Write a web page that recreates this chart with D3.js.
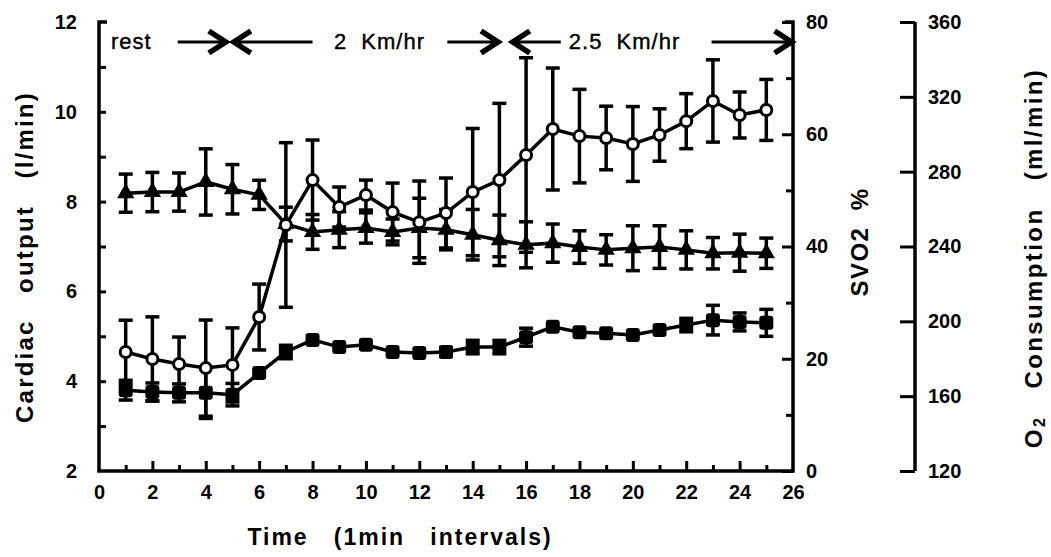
<!DOCTYPE html>
<html>
<head>
<meta charset="utf-8">
<script src="https://cdn.jsdelivr.net/npm/d3@7"></script>
<style>
  body { margin: 0; background: #fff; }
  text { font-family: "Liberation Sans", Arial, Helvetica, sans-serif; fill: #000; white-space: pre; }
</style>
</head>
<body>
<svg id="chart"></svg>
<script>
var width = 1051;
var height = 557;

// time points, 1 min intervals
var minutes = d3.range(1, 26);

// cardiac output (l/min), filled markers
var cardiacOutput = [3.80, 3.76, 3.74, 3.74, 3.70, 4.18, 4.65, 4.92, 4.76, 4.81, 4.65, 4.63, 4.65,
  4.76, 4.76, 4.98, 5.21, 5.09, 5.07, 5.03, 5.14, 5.25, 5.36, 5.32, 5.30];
var cardiacOutputErr = [0.22, 0.2, 0.2, 0.57, 0.25, 0, 0.15, 0, 0, 0, 0, 0, 0.1,
  0.15, 0.15, 0.2, 0, 0, 0, 0, 0, 0.15, 0.33, 0.2, 0.3];

// SVO2 %, triangles
var svo2 = [49.5, 49.7, 49.7, 51.5, 50.2, 49.2, 44.0, 42.6, 43.0, 43.3, 42.6, 43.3, 43.0,
  42.1, 41.1, 40.3, 40.6, 39.9, 39.4, 39.7, 39.9, 39.4, 38.8, 38.9, 38.8];
var svo2Err = [3.4, 3.5, 3.4, 5.9, 4.4, 2.6, 3.0, 3.1, 3.2, 2.7, 2.3, 5.3, 3.6,
  4.5, 4.5, 4.1, 3.4, 2.9, 2.7, 4.0, 3.8, 3.4, 2.8, 3.3, 2.7];

// O2 consumption (ml/min), open circles
var o2 = [183.6, 179.9, 177.2, 175.0, 176.7, 202.3, 251.5, 275.5, 261.1, 267.5, 258.4, 253.0, 257.9,
  269.1, 275.5, 288.9, 302.8, 299.0, 298.0, 294.8, 299.6, 307.0, 317.8, 310.3, 313.0];
var o2Err = [17, 22.5, 14.4, 25.7, 19.8, 17.6, 44, 21.4, 10.7, 8, 15.5, 22, 18.7,
  34, 41, 52, 32.6, 25, 17, 20, 14, 14.7, 22, 12.3, 16.3];

// tick values
var xTicks = d3.range(0, 27, 2);
var coTicks = [2, 4, 6, 8, 10, 12];
var svTicks = [0, 20, 40, 60, 80];
var o2Ticks = [120, 160, 200, 240, 280, 320, 360];

// walking phases shown along the top (minutes)
var phaseLabels = ["rest", "2  Km/hr", "2.5  Km/hr"];
var phaseLabelX = [0.45, 8.8, 17.6];
var arrowsRight = [[2.95, 4.75], [13.05, 14.95], [22.95, 25.95]];
var arrowsLeft = [[5.05, 8.0], [15.5, 17.3]];

var plotLeft = 99, plotRight = 793, plotTop = 22, plotBottom = 471;
var o2AxisX = 915;

var svg = d3.select("#chart").attr("width", width).attr("height", height);

var x = d3.scaleLinear().domain([0, 26]).range([plotLeft, plotRight]);
var yCO = d3.scaleLinear().domain([2, 12]).range([plotBottom, plotTop]);
var ySV = d3.scaleLinear().domain([0, 80]).range([plotBottom, plotTop]);
var yO2 = d3.scaleLinear().domain([120, 360]).range([plotBottom, plotTop]);

function styleAxis(g) {
  g.select(".domain").remove();
  g.selectAll("line").attr("stroke", "#000").attr("stroke-width", 3);
  g.selectAll("text").attr("font-size", 20).attr("font-weight", "bold").attr("fill", "#000");
}

// x axis
svg.append("g")
    .attr("transform", "translate(0," + plotBottom + ")")
    .call(d3.axisBottom(x).tickValues(d3.range(1, 26, 2)).tickSizeInner(-6).tickSizeOuter(0).tickFormat(""))
    .call(styleAxis);
svg.append("g")
    .attr("transform", "translate(0," + plotBottom + ")")
    .call(d3.axisBottom(x).tickValues(xTicks.slice(1, -1)).tickSizeInner(-10).tickSizeOuter(0).tickPadding(14))
    .call(styleAxis);
svg.append("g")
    .attr("transform", "translate(0," + plotBottom + ")")
    .call(d3.axisBottom(x).tickValues([0, 26]).tickSize(0).tickPadding(14))
    .call(styleAxis);

// left axis, cardiac output
svg.append("g")
    .attr("transform", "translate(" + plotLeft + ",0)")
    .call(d3.axisLeft(yCO).tickValues(d3.range(3, 12, 1)).tickSizeInner(-7).tickSizeOuter(0).tickFormat(""))
    .call(styleAxis);
svg.append("g")
    .attr("transform", "translate(" + plotLeft + ",0)")
    .call(d3.axisLeft(yCO).tickValues(coTicks).tickSizeInner(0).tickSizeOuter(0).tickPadding(22))
    .call(styleAxis);

// right axis, SVO2
svg.append("g")
    .attr("transform", "translate(" + plotRight + ",0)")
    .call(d3.axisRight(ySV).tickValues(d3.range(10, 80, 20)).tickSizeInner(-7).tickSizeOuter(0).tickFormat(""))
    .call(styleAxis);
svg.append("g")
    .attr("transform", "translate(" + plotRight + ",0)")
    .call(d3.axisRight(ySV).tickValues(svTicks).tickSizeInner(-11).tickSizeOuter(0).tickPadding(13))
    .call(styleAxis);

// third axis, O2 consumption
svg.append("g")
    .attr("transform", "translate(" + o2AxisX + ",0)")
    .call(d3.axisRight(yO2).tickValues(o2Ticks).tickSizeInner(-15).tickSizeOuter(0).tickPadding(13))
    .call(styleAxis);

// axis lines
svg.append("path")
    .attr("d", "M" + (plotLeft + 8) + "," + plotTop + "H" + plotLeft + "V" + plotBottom + "H" + plotRight +
      "V" + plotTop + "H" + (plotRight - 8))
    .attr("fill", "none").attr("stroke", "#000").attr("stroke-width", 3.5);
svg.append("line")
    .attr("x1", o2AxisX).attr("x2", o2AxisX).attr("y1", yO2(360)).attr("y2", yO2(120))
    .attr("stroke", "#000").attr("stroke-width", 3.5);

// axis titles
svg.append("text")
    .attr("transform", "translate(33," + 257 + ") rotate(-90)")
    .attr("text-anchor", "middle").attr("font-size", 24).attr("font-weight", "bold")
    .attr("letter-spacing", 2.2)
    .text("Cardiac   output   (l/min)");

svg.append("text")
    .attr("x", 400).attr("y", 545)
    .attr("text-anchor", "middle").attr("font-size", 23).attr("font-weight", "bold")
    .attr("letter-spacing", 2)
    .text("Time   (1min   intervals)");

svg.append("text")
    .attr("transform", "translate(868,242) rotate(-90)")
    .attr("text-anchor", "middle").attr("font-size", 24).attr("font-weight", "bold")
    .attr("letter-spacing", 1.5)
    .text("SVO2  %");

var o2Title = svg.append("text")
    .attr("transform", "translate(1042,258) rotate(-90)")
    .attr("text-anchor", "middle").attr("font-size", 24).attr("font-weight", "bold")
    .attr("letter-spacing", 2.4);
o2Title.append("tspan").text("O");
o2Title.append("tspan").attr("font-size", 16).attr("dy", 3).text("2");
o2Title.append("tspan").attr("dy", -3).text("   Consumption   (ml/min)");

// phase annotations
svg.selectAll(".phase")
  .data(phaseLabels)
  .enter()
  .append("text")
    .attr("class", "phase")
    .attr("x", function(d, i) { return x(phaseLabelX[i]); })
    .attr("y", 49)
    .attr("font-size", 22)
    .attr("letter-spacing", 1)
    .attr("stroke", "#000")
    .attr("stroke-width", 0.4)
    .text(function(d) { return d; });

var arrowY = 42;
function arrowHead(tipX, dir) {
  return "M" + (tipX - dir * 17) + "," + (arrowY - 11) + "L" + tipX + "," + arrowY +
    "L" + (tipX - dir * 17) + "," + (arrowY + 11);
}
arrowsRight.forEach(function(a) {
  svg.append("line").attr("x1", x(a[0])).attr("x2", x(a[1]) - 3).attr("y1", arrowY).attr("y2", arrowY)
    .attr("stroke", "#000").attr("stroke-width", 3);
  svg.append("path").attr("d", arrowHead(x(a[1]), 1))
    .attr("fill", "none").attr("stroke", "#000").attr("stroke-width", 5.5).attr("stroke-linejoin", "miter");
});
arrowsLeft.forEach(function(a) {
  svg.append("line").attr("x1", x(a[0]) + 3).attr("x2", x(a[1])).attr("y1", arrowY).attr("y2", arrowY)
    .attr("stroke", "#000").attr("stroke-width", 3);
  svg.append("path").attr("d", arrowHead(x(a[0]), -1))
    .attr("fill", "none").attr("stroke", "#000").attr("stroke-width", 5.5).attr("stroke-linejoin", "miter");
});

// series
var series = [
  {values: svo2, err: svo2Err, y: ySV, marker: "triangle"},
  {values: cardiacOutput, err: cardiacOutputErr, y: yCO, marker: "square"},
  {values: o2, err: o2Err, y: yO2, marker: "open"}
];

function drawErrors(s) {
  var g = svg.append("g").attr("stroke", "#000").attr("stroke-width", 3.5);
  s.values.forEach(function(v, i) {
    if (!s.err[i]) return;
    var cx = x(minutes[i]);
    var y1 = s.y(v - s.err[i]), y2 = s.y(v + s.err[i]);
    g.append("line").attr("x1", cx).attr("x2", cx).attr("y1", y1).attr("y2", y2);
    g.append("line").attr("x1", cx - 7).attr("x2", cx + 7).attr("y1", y1).attr("y2", y1);
    g.append("line").attr("x1", cx - 7).attr("x2", cx + 7).attr("y1", y2).attr("y2", y2);
  });
}

function drawLine(s) {
  var line = d3.line()
      .x(function(d, i) { return x(minutes[i]); })
      .y(function(d) { return s.y(d); });
  svg.append("path")
      .datum(s.values)
      .attr("d", line)
      .attr("fill", "none")
      .attr("stroke", "#000")
      .attr("stroke-width", 3.5);
}

function drawMarkers(s) {
  var g = svg.append("g");
  if (s.marker === "open") {
    g.selectAll("circle")
      .data(s.values)
      .enter()
      .append("circle")
        .attr("cx", function(d, i) { return x(minutes[i]); })
        .attr("cy", function(d) { return s.y(d); })
        .attr("r", 5.5)
        .attr("fill", "#fff")
        .attr("stroke", "#000")
        .attr("stroke-width", 3);
  } else if (s.marker === "square") {
    g.selectAll("rect")
      .data(s.values)
      .enter()
      .append("rect")
        .attr("x", function(d, i) { return x(minutes[i]) - 7; })
        .attr("y", function(d) { return s.y(d) - 7; })
        .attr("width", 14)
        .attr("height", 14)
        .attr("rx", 3)
        .attr("fill", "#000");
  } else {
    g.selectAll("path")
      .data(s.values)
      .enter()
      .append("path")
        .attr("transform", function(d, i) { return "translate(" + x(minutes[i]) + "," + s.y(d) + ")"; })
        .attr("d", d3.symbol().type(d3.symbolTriangle).size(130))
        .attr("fill", "#000");
  }
}

series.forEach(drawErrors);
series.forEach(drawLine);
series.forEach(drawMarkers);
</script>
</body>
</html>
